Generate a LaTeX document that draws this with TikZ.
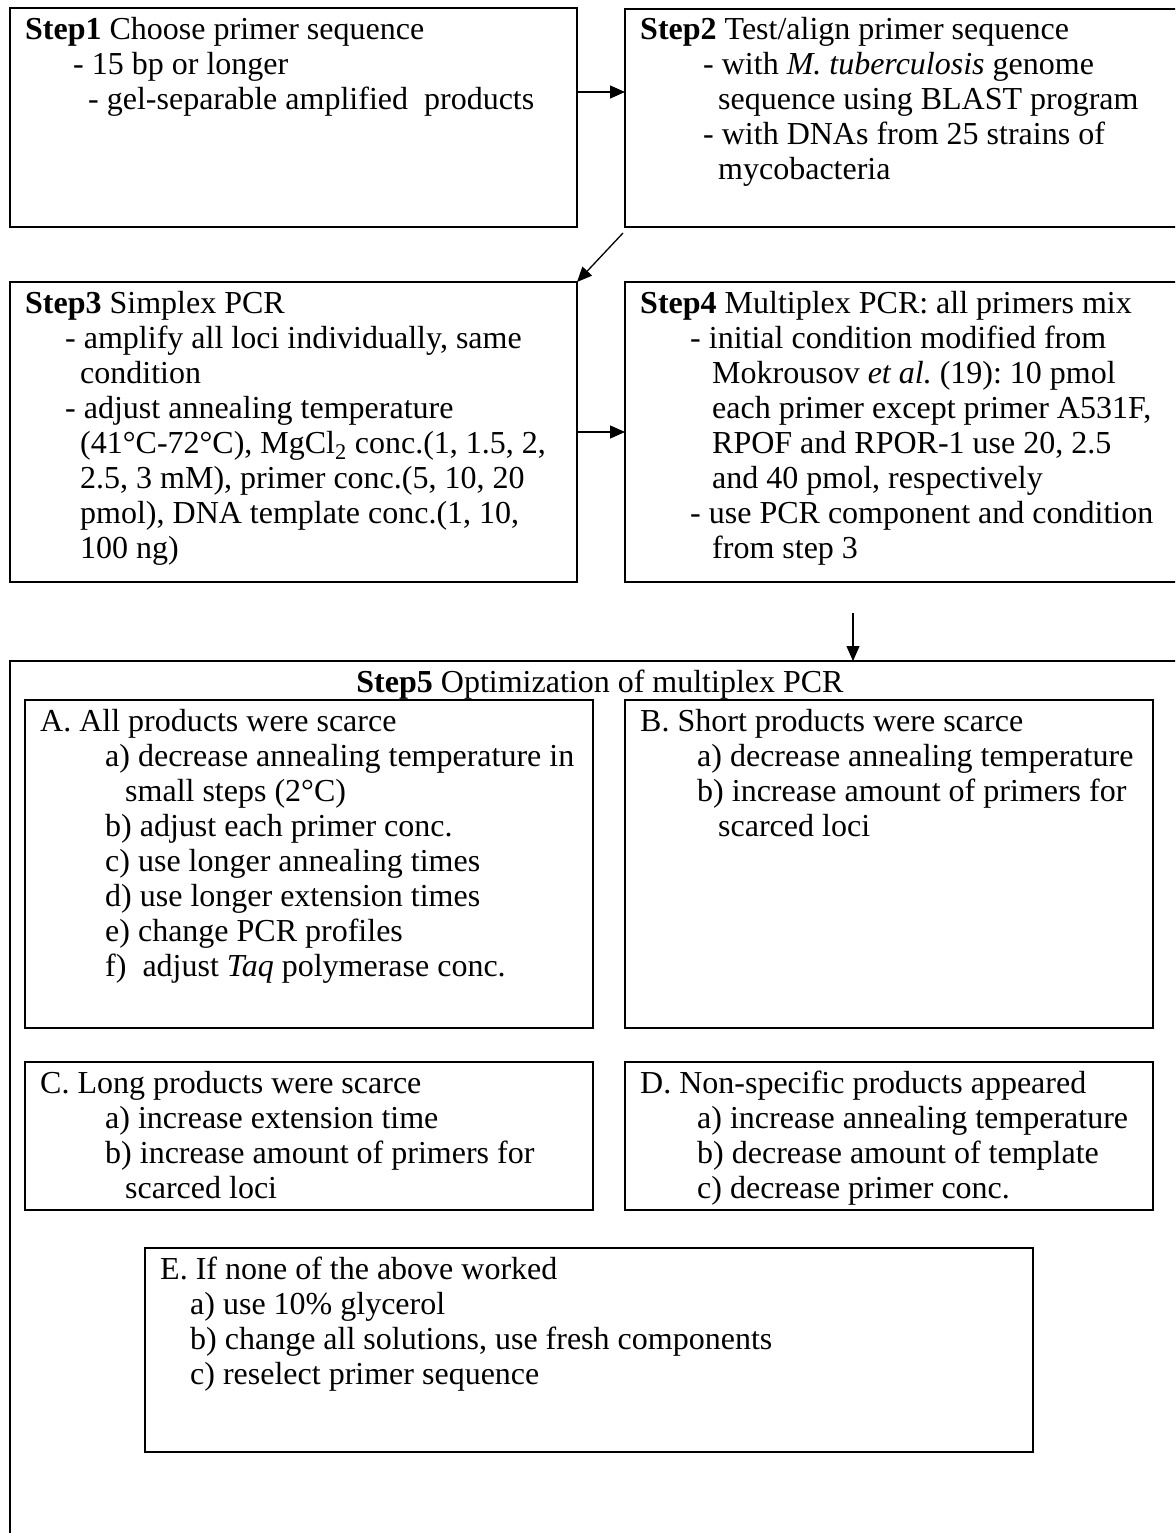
\documentclass[tikz,border=0pt]{standalone}
\usepackage{fontspec}
\setmainfont{Liberation Serif}
\usetikzlibrary{arrows.meta}
\frenchspacing
\tikzset{
  box/.style={draw, line width=1.8pt, rectangle, inner sep=0pt, outer sep=0pt, anchor=north west},
  ln/.style={anchor=base west, inner sep=0pt, font=\fontsize{32}{35}\selectfont\frenchspacing},
  arr/.style={line width=1.3pt, -{Triangle[length=15pt,width=13pt]}}
}
\begin{document}
\begin{tikzpicture}[x=1pt,y=-1pt]
\useasboundingbox (0,0) rectangle (1175,1533);
\clip (0,0) rectangle (1175,1533);
% boxes
\node[box, minimum width=567pt, minimum height=219pt] (s1) at (10,8) {};
\node[box, minimum width=580pt, minimum height=218pt] (s2) at (625,9) {};
\node[box, minimum width=567pt, minimum height=300pt] (s3) at (10,282) {};
\node[box, minimum width=580pt, minimum height=300pt] (s4) at (625,282) {};
\node[box, minimum width=1200pt, minimum height=900pt] (s5) at (10,661) {};
\node[box, minimum width=568pt, minimum height=328pt] (bA) at (25,700) {};
\node[box, minimum width=528pt, minimum height=328pt] (bB) at (625,700) {};
\node[box, minimum width=568pt, minimum height=148pt] (bC) at (25,1062) {};
\node[box, minimum width=528pt, minimum height=148pt] (bD) at (625,1062) {};
\node[box, minimum width=888pt, minimum height=204pt] (bE) at (145,1248) {};
% arrows
\draw[arr] ([yshift=25.5pt]s1.east) -- ([yshift=26pt]s2.west);
\draw[arr] ([xshift=-2pt,yshift=-6pt]s2.south west) -- (s3.north east);
\draw[arr] (s3.east) -- (s4.west);
\coordinate (a45) at (853,613);
\draw[arr] (a45) -- (a45 |- s5.north);
% Step 1
\node[ln] (t11) at (25,40) {\textbf{Step1} Choose primer sequence};
\node[ln] (t12) at (73,75) {- 15 bp or longer};
\node[ln] (t13) at (88,110) {- gel-separable amplified\ \ products};
% Step 2
\node[ln] (t21) at (640,40) {\textbf{Step2} Test/align primer sequence};
\node[ln] (t22) at (703,75) {- with \textit{M. tuberculosis} genome};
\node[ln] (t23) at (718,110) {sequence using BLAST program};
\node[ln] (t24) at (703,145) {- with DNAs from 25 strains of};
\node[ln] (t25) at (718,180) {mycobacteria};
% Step 3
\node[ln] (t31) at (25,313) {\textbf{Step3} Simplex PCR};
\node[ln] (t32) at (65,348) {- amplify all loci individually, same};
\node[ln] (t33) at (80,383) {condition};
\node[ln] (t34) at (65,418) {- adjust annealing temperature};
\node[ln] (t35) at (80,453) {(41°C-72°C), MgCl\textsubscript{2} conc.(1, 1.5, 2,};
\node[ln] (t36) at (80,488) {2.5, 3 mM), primer conc.(5, 10, 20};
\node[ln] (t37) at (80,523) {pmol), DNA template conc.(1, 10,};
\node[ln] (t38) at (80,558) {100 ng)};
% Step 4
\node[ln] (t41) at (640,313) {\textbf{Step4} Multiplex PCR: all primers mix};
\node[ln] (t42) at (690,348) {- initial condition modified from};
\node[ln] (t43) at (712,383) {Mokrousov \textit{et al.} (19): 10 pmol};
\node[ln] (t44) at (712,418) {each primer except primer A531F,};
\node[ln] (t45) at (712,453) {RPOF and RPOR-1 use 20, 2.5};
\node[ln] (t46) at (712,488) {and 40 pmol, respectively};
\node[ln] (t47) at (690,523) {- use PCR component and condition};
\node[ln] (t48) at (712,558) {from step 3};
% Step 5
\node[ln, anchor=base] (t51) at (600,692) {\textbf{Step5} Optimization of multiplex PCR};
% A
\node[ln] (ta1) at (40,731) {A. All products were scarce};
\node[ln] (ta2) at (105,766) {a) decrease annealing temperature in};
\node[ln] (ta3) at (125,801) {small steps (2°C)};
\node[ln] (ta4) at (105,836) {b) adjust each primer conc.};
\node[ln] (ta5) at (105,871) {c) use longer annealing times};
\node[ln] (ta6) at (105,906) {d) use longer extension times};
\node[ln] (ta7) at (105,941) {e) change PCR profiles};
\node[ln] (ta8) at (105,976) {f)\ \ adjust \textit{Taq} polymerase conc.};
% B
\node[ln] (tb1) at (640,731) {B. Short products were scarce};
\node[ln] (tb2) at (697,766) {a) decrease annealing temperature};
\node[ln] (tb3) at (697,801) {b) increase amount of primers for};
\node[ln] (tb4) at (718,836) {scarced loci};
% C
\node[ln] (tc1) at (40,1093) {C. Long products were scarce};
\node[ln] (tc2) at (105,1128) {a) increase extension time};
\node[ln] (tc3) at (105,1163) {b) increase amount of primers for};
\node[ln] (tc4) at (125,1198) {scarced loci};
% D
\node[ln] (td1) at (640,1093) {D. Non-specific products appeared};
\node[ln] (td2) at (697,1128) {a) increase annealing temperature};
\node[ln] (td3) at (697,1163) {b) decrease amount of template};
\node[ln] (td4) at (697,1198) {c) decrease primer conc.};
% E
\node[ln] (te1) at (160,1279) {E. If none of the above worked};
\node[ln] (te2) at (190,1314) {a) use 10\% glycerol};
\node[ln] (te3) at (190,1349) {b) change all solutions, use fresh components};
\node[ln] (te4) at (190,1384) {c) reselect primer sequence};
\end{tikzpicture}
\end{document}
